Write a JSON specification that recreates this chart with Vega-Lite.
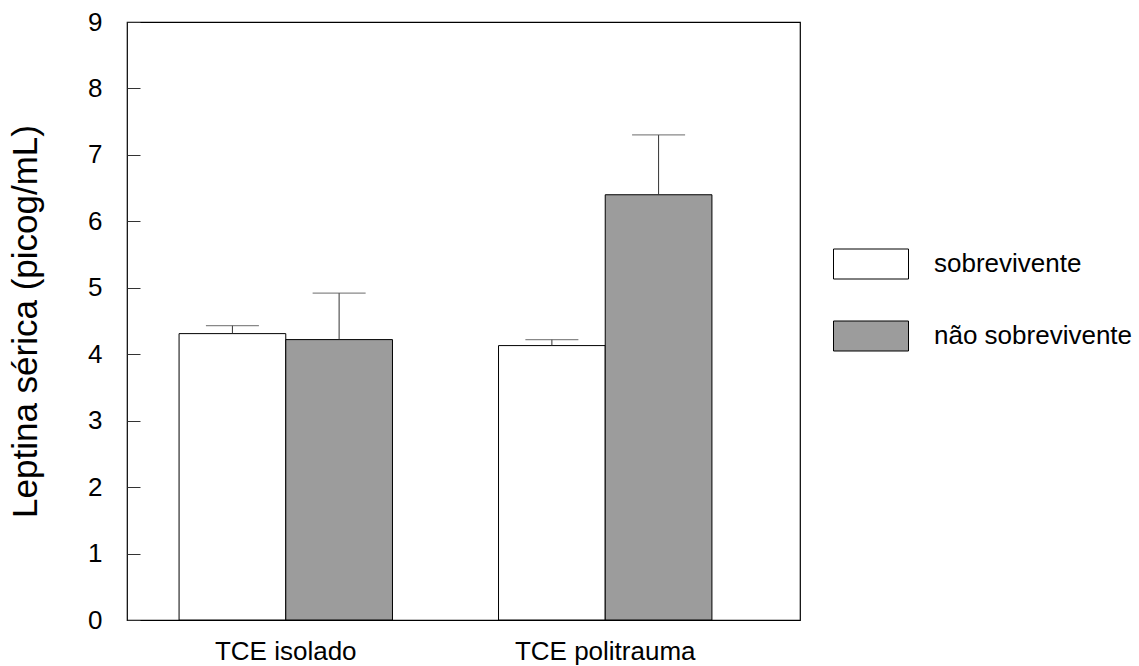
{
  "$schema": "https://vega.github.io/schema/vega-lite/v6.json",
  "width": 673,
  "height": 598,
  "autosize": {"type": "none"},
  "padding": {"left": 127, "top": 22, "right": 339, "bottom": 46},
  "background": "white",
  "config": {
    "font": "Liberation Sans",
    "view": {"stroke": "#000", "strokeWidth": 1.2}
  },
  "data": {
    "values": [
      {"group": "TCE isolado", "status": "sobrevivente", "value": 4.31, "upper": 4.43},
      {"group": "TCE isolado", "status": "não sobrevivente", "value": 4.22, "upper": 4.92},
      {"group": "TCE politrauma", "status": "sobrevivente", "value": 4.13, "upper": 4.22},
      {"group": "TCE politrauma", "status": "não sobrevivente", "value": 6.40, "upper": 7.30}
    ]
  },
  "encoding": {
    "x": {
      "field": "group",
      "type": "nominal",
      "sort": ["TCE isolado", "TCE politrauma"],
      "scale": {"range": [0, 637], "paddingInner": 0.332, "paddingOuter": 0.163},
      "axis": {
        "title": null,
        "labelAngle": 0,
        "ticks": false,
        "domain": false,
        "labelFontSize": 26,
        "labelColor": "black",
        "labelPadding": 18,
        "labelLimit": 400
      }
    },
    "xOffset": {
      "field": "status",
      "type": "nominal",
      "sort": ["sobrevivente", "não sobrevivente"],
      "scale": {"paddingInner": 0, "paddingOuter": 0}
    }
  },
  "layer": [
    {
      "mark": {"type": "bar", "stroke": "black", "strokeWidth": 1},
      "encoding": {
        "y": {
          "field": "value",
          "type": "quantitative",
          "scale": {"domain": [0, 9], "nice": false},
          "axis": {
            "title": "Leptina sérica (picog/mL)",
            "titleFontSize": 35,
            "titleFontWeight": "normal",
            "titleColor": "black",
            "titlePadding": 44,
            "values": [0, 1, 2, 3, 4, 5, 6, 7, 8, 9],
            "format": "d",
            "grid": false,
            "domain": false,
            "tickSize": -13,
            "tickColor": "#333",
            "labelFontSize": 26,
            "labelColor": "black",
            "labelPadding": 38
          }
        },
        "fill": {
          "field": "status",
          "type": "nominal",
          "scale": {"domain": ["sobrevivente", "não sobrevivente"], "range": ["#ffffff", "#9c9c9c"]},
          "legend": {
            "title": null,
            "orient": "none",
            "legendX": 706,
            "legendY": 204,
            "symbolType": "M-1,-0.4H1V0.4H-1Z",
            "symbolSize": 5625,
            "symbolStrokeColor": "black",
            "symbolStrokeWidth": 1,
            "labelFontSize": 26,
            "labelColor": "black",
            "labelOffset": 25,
            "rowPadding": 17,
            "labelLimit": 400
          }
        }
      }
    },
    {
      "mark": {"type": "rule", "color": "#333", "strokeWidth": 1},
      "encoding": {
        "y": {"field": "value", "type": "quantitative"},
        "y2": {"field": "upper"}
      }
    },
    {
      "mark": {"type": "tick", "orient": "horizontal", "color": "#555", "thickness": 1.2, "size": 53},
      "encoding": {
        "y": {"field": "upper", "type": "quantitative"}
      }
    }
  ]
}
